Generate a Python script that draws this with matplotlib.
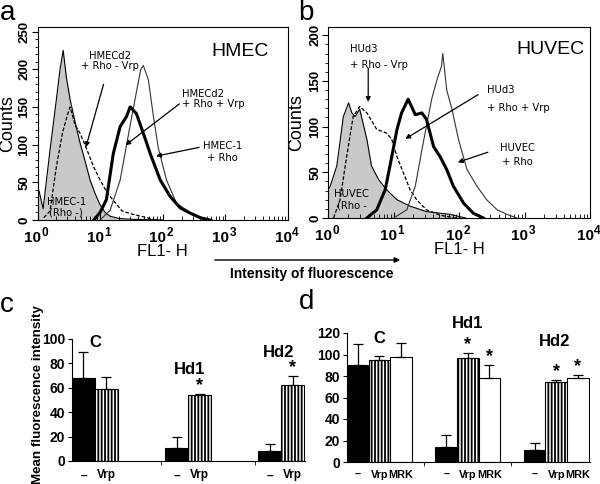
import matplotlib
matplotlib.use("Agg")
import matplotlib.pyplot as plt
import matplotlib.transforms as mtransforms
from matplotlib.ticker import MultipleLocator, FixedLocator, LogLocator, NullFormatter

plt.rcParams["font.family"] = ["Liberation Sans", "DejaVu Sans"]

# ---- histogram data (log10 of FL1-H, counts) ----
# panel a - HMEC
a_neg_dec = [0.0, 0.02, 0.09, 0.2, 0.3, 0.36, 0.41, 0.46, 0.52, 0.6, 0.68, 0.76, 0.84, 0.92, 1.0, 1.08, 1.16, 1.3, 1.5, 2.0]
a_neg_cnt = [27, 40, 15, 93, 159, 200, 225, 190, 160, 130, 102, 78, 53, 35, 20, 10, 5, 2, 1, 0]
a_novrp_dec = [0.1, 0.2, 0.3, 0.4, 0.48, 0.52, 0.6, 0.68, 0.78, 0.9, 1.0, 1.1, 1.22, 1.35, 1.5, 1.7, 1.9]
a_novrp_cnt = [3, 12, 70, 116, 140, 150, 126, 115, 95, 70, 53, 38, 25, 12, 8, 4, 0]
a_rho_dec = [1.0, 1.16, 1.32, 1.48, 1.58, 1.65, 1.69, 1.77, 1.85, 1.93, 2.06, 2.22, 2.44, 2.65, 2.8]
a_rho_cnt = [0, 13, 53, 126, 170, 200, 205, 186, 138, 95, 53, 22, 10, 2, 0]
a_vrp_dec = [0.9, 1.0, 1.1, 1.21, 1.32, 1.42, 1.48, 1.58, 1.69, 1.8, 1.96, 2.12, 2.28, 2.44, 2.6, 2.75]
a_vrp_cnt = [0, 10, 27, 88, 124, 137, 150, 141, 115, 88, 53, 31, 16, 9, 3, 0]

# panel b - HUVEC
b_neg_dec = [0.0, 0.03, 0.13, 0.23, 0.31, 0.36, 0.41, 0.48, 0.59, 0.66, 0.77, 0.89, 1.05, 1.25, 1.5, 1.86, 2.1]
b_neg_cnt = [31, 35, 57, 111, 126, 115, 111, 119, 86, 57, 42, 31, 20, 13, 7, 4, 0]
b_novrp_dec = [0.08, 0.18, 0.28, 0.38, 0.48, 0.59, 0.74, 0.89, 0.97, 1.05, 1.15, 1.25, 1.35, 1.5, 1.71, 1.95]
b_novrp_cnt = [0, 20, 67, 111, 122, 115, 97, 93, 86, 67, 49, 31, 20, 9, 3, 0]
b_vrp_dec = [0.59, 0.74, 0.87, 0.97, 1.05, 1.12, 1.22, 1.33, 1.43, 1.5, 1.61, 1.71, 1.81, 1.91, 2.07, 2.22, 2.37]
b_vrp_cnt = [0, 9, 31, 67, 97, 115, 130, 113, 115, 108, 78, 67, 53, 35, 16, 5, 0]
b_rho_dec = [1.0, 1.2, 1.33, 1.45, 1.58, 1.66, 1.73, 1.75, 1.81, 1.89, 1.99, 2.12, 2.27, 2.42, 2.58, 2.73, 2.88]
b_rho_cnt = [0, 9, 35, 82, 130, 151, 166, 180, 140, 119, 86, 53, 35, 20, 9, 4, 0]

decades = [0, 1, 2, 3, 4]

# ---- bar data ----
c_groups = ["C", "Hd1", "Hd2"]
c_ctrl = [68, 11, 8]
c_ctrl_err = [21, 9, 6]
c_vrp = [59, 54, 62]
c_vrp_err = [10, 1, 8]
c_stars = [False, True, True]

d_groups = ["C", "Hd1", "Hd2"]
d_ctrl = [90, 14, 11]
d_ctrl_err = [20, 11, 7]
d_vrp = [95, 97, 74]
d_vrp_err = [4, 4, 2]
d_mrk = [98, 78, 78]
d_mrk_err = [13, 12, 3]
d_vrp_stars = [False, True, True]
d_mrk_stars = [False, True, True]

fig = plt.figure(figsize=(6, 4.84), dpi=100)
W, H = 600.0, 484.0


def ax_px(x0, y0, x1, y1):
    return fig.add_axes([x0 / W, 1 - y1 / H, (x1 - x0) / W, (y1 - y0) / H])


gray = "#c9c9c9"
ann = dict(fontsize=7.2, family="DejaVu Sans")


def hist_panel(ax, neg, novrp, rho, vrp, ymax, label_x):
    ax.fill_between([10 ** d for d in neg[0]], neg[1], color=gray, lw=0)
    ax.plot([10 ** d for d in neg[0]], neg[1], color="black", lw=0.8)
    ax.plot([10 ** d for d in novrp[0]], novrp[1], color="black", lw=0.9, dashes=(3, 1.5))
    ax.plot([10 ** d for d in rho[0]], rho[1], color="#333333", lw=0.8)
    ax.plot([10 ** d for d in vrp[0]], vrp[1], color="black", lw=2.2)
    ax.set_xscale("log")
    ax.set_xlim(1, 1e4)
    ax.set_ylim(0, ymax)
    ax.set_xticks([10 ** d for d in decades])
    ax.set_xticklabels([])
    trans = mtransforms.blended_transform_factory(ax.transData, ax.transAxes)
    for d in decades:
        ax.annotate("10", xy=(10 ** d, 0), xycoords=trans, xytext=(3.5, -11), textcoords="offset pixels",
                    ha="right", va="top", fontsize=11, fontweight="bold", annotation_clip=False)
        ax.annotate(str(d), xy=(10 ** d, 0), xycoords=trans, xytext=(4, -7), textcoords="offset pixels",
                    ha="left", va="top", fontsize=8.5, fontweight="bold", annotation_clip=False)
    ax.xaxis.set_minor_locator(LogLocator(base=10, subs=range(2, 10)))
    ax.xaxis.set_minor_formatter(NullFormatter())
    ax.yaxis.set_major_locator(MultipleLocator(50))
    ax.yaxis.set_minor_locator(MultipleLocator(10))
    for lab in ax.get_yticklabels():
        lab.set_rotation(90)
        lab.set_va("center")
        lab.set_fontweight("bold")
        lab.set_fontsize(9.5)
    ax.tick_params(axis="x", which="both", direction="in", top=False)
    ax.tick_params(axis="x", which="major", length=4)
    ax.tick_params(axis="x", which="minor", length=3)
    ax.tick_params(axis="y", which="both", direction="out", pad=1)
    ax.tick_params(axis="y", which="major", length=4)
    ax.tick_params(axis="y", which="minor", length=2.5)
    ax.set_xlabel("FL1- H", fontsize=12)
    ax.xaxis.set_label_coords(0.5, -0.125)
    ax.set_ylabel("Counts", fontsize=13)
    ax.yaxis.set_label_coords(label_x, 0.5)
    for s in ax.spines.values():
        s.set_linewidth(0.8)


axa = ax_px(37.5, 27, 288, 220)
hist_panel(axa, (a_neg_dec, a_neg_cnt), (a_novrp_dec, a_novrp_cnt),
           (a_rho_dec, a_rho_cnt), (a_vrp_dec, a_vrp_cnt), 256, -0.086)
axa.text(10 ** 3.23, 223, "HMEC", fontsize=14, ha="center", va="center")
axa.annotate("HMECd2\n+ Rho - Vrp", xy=(10 ** 0.76, 93), xytext=(10 ** 1.16, 211),
             ha="center", va="center", linespacing=1.0,
             arrowprops=dict(arrowstyle="-|>", color="black", lw=0.9, shrinkA=8, mutation_scale=7), **ann)
axa.annotate("HMECd2\n+ Rho + Vrp", xy=(10 ** 1.37, 97), xytext=(10 ** 2.31, 160),
             ha="left", va="center", linespacing=1.0,
             arrowprops=dict(arrowstyle="-|>", color="black", lw=0.9, shrinkA=0, mutation_scale=7,
                             relpos=(0.05, 0.5)), **ann)
axa.annotate("HMEC-1\n+ Rho", xy=(10 ** 1.85, 84), xytext=(10 ** 2.96, 90),
             ha="center", va="center", linespacing=1.3,
             arrowprops=dict(arrowstyle="-|>", color="black", lw=0.9, shrinkA=1, mutation_scale=7,
                             relpos=(0.0, 0.75)), **ann)
axa.text(10 ** 0.46, 17, "HMEC-1\n(Rho -)", ha="center", va="center", linespacing=1.0, **ann)

axb = ax_px(328.3, 27, 590, 218)
hist_panel(axb, (b_neg_dec, b_neg_cnt), (b_novrp_dec, b_novrp_cnt),
           (b_rho_dec, b_rho_cnt), (b_vrp_dec, b_vrp_cnt), 209, -0.089)
axb.text(10 ** 3.39, 184, "HUVEC", fontsize=14, ha="center", va="center")
axb.text(10 ** 0.33, 176, "HUd3\n+ Rho - Vrp", ha="left", va="center", linespacing=1.7, **ann)
axb.annotate("", xy=(10 ** 0.61, 124), xytext=(10 ** 0.61, 164),
             arrowprops=dict(arrowstyle="-|>", color="black", lw=0.9, shrinkA=0, mutation_scale=7))
axb.text(10 ** 2.43, 130, "HUd3\n+ Rho + Vrp", ha="left", va="center", linespacing=2.0, **ann)
axb.annotate("", xy=(10 ** 1.14, 85), xytext=(10 ** 2.29, 135),
             arrowprops=dict(arrowstyle="-|>", color="black", lw=0.9, shrinkA=0, mutation_scale=7))
axb.text(10 ** 2.89, 69, "HUVEC\n+ Rho", ha="center", va="center", linespacing=1.6, **ann)
axb.annotate("", xy=(10 ** 1.94, 60), xytext=(10 ** 2.44, 72),
             arrowprops=dict(arrowstyle="-|>", color="black", lw=0.9, shrinkA=0, mutation_scale=7))
axb.text(10 ** 0.36, 20, "HUVEC\n(Rho -", ha="center", va="center", linespacing=1.3, **ann)

# intensity arrow
fig.add_artist(matplotlib.patches.FancyArrowPatch((212 / W, 1 - 260 / H), (403 / W, 1 - 260 / H),
                                                  transform=fig.transFigure, arrowstyle="-|>",
                                                  mutation_scale=8, lw=1.0, color="black"))
fig.text(312 / W, 1 - 274 / H, "Intensity of fluorescence", fontsize=10, fontweight="bold",
         ha="center", va="center")

# panel letters
for lx, ly, lt in [(8, 13, "a"), (306, 13, "b"), (7, 305, "c"), (307, 302, "d")]:
    fig.text(lx / W, 1 - ly / H, lt, fontsize=20, ha="center", va="center")

plt.rcParams["hatch.linewidth"] = 1.3


def bar_axes(ax, ymax, step, xsize):
    ax.set_ylim(0, ymax)
    ax.yaxis.set_major_locator(MultipleLocator(step))
    for s in ["top", "right"]:
        ax.spines[s].set_visible(False)
    ax.spines["left"].set_linewidth(0.8)
    ax.spines["bottom"].set_linewidth(0.8)
    ax.tick_params(axis="y", direction="out", length=3, labelsize=10, pad=2)
    for lab in ax.get_yticklabels():
        lab.set_fontweight("bold")
    ax.tick_params(axis="x", which="major", length=0, labelsize=xsize, pad=6)
    ax.tick_params(axis="x", which="minor", direction="out", length=3)
    for lab in ax.get_xticklabels():
        lab.set_fontweight("bold")


def errbars(ax, xs, vals, errs):
    ax.errorbar(xs, vals, yerr=[[0] * len(errs), errs], fmt="none", ecolor="black",
                elinewidth=0.9, capsize=3.5, capthick=0.9)


# panel c
axc = ax_px(72, 339, 305, 461)
bw = 0.246
xs = list(range(len(c_groups)))
x1 = [x + bw / 2 for x in xs]
x2 = [x + 1.5 * bw for x in xs]
axc.bar(x1, c_ctrl, bw, color="black", edgecolor="black", lw=0.8)
axc.bar(x2, c_vrp, bw, color="white", edgecolor="black", hatch="|||||", lw=0.8)
errbars(axc, x1, c_ctrl, c_ctrl_err)
errbars(axc, x2, c_vrp, c_vrp_err)
for x, v, e, s in zip(x2, c_vrp, c_vrp_err, c_stars):
    if s:
        axc.text(x, v + e, "*", fontsize=13, fontweight="bold", ha="center", va="bottom")
axc.set_xlim(0, 2.5)
axc.set_xticks(x1 + x2)
axc.set_xticklabels(["–"] * 3 + ["Vrp"] * 3)
axc.xaxis.set_minor_locator(FixedLocator([0.96, 1.96]))
bar_axes(axc, 100, 20, 8.5)
for (gx, gy), g in zip([(0.246, 97.5), (1.26, 75), (2.22, 89)], c_groups):
    axc.text(gx, gy, g, fontsize=12, fontweight="bold", ha="center", va="center", clip_on=False)
fig.text(38 / W, 1 - 395 / H, "Mean fluorescence intensity", fontsize=9.6, fontweight="bold",
         rotation=90, ha="center", va="center")

# panel d
axd = ax_px(347, 333, 590, 462)
bw = 0.245
xs = list(range(len(d_groups)))
x1 = [x + bw / 2 for x in xs]
x2 = [x + 1.5 * bw for x in xs]
x3 = [x + 2.5 * bw for x in xs]
axd.bar(x1, d_ctrl, bw, color="black", edgecolor="black", lw=0.8)
axd.bar(x2, d_vrp, bw, color="white", edgecolor="black", hatch="|||||", lw=0.8)
axd.bar(x3, d_mrk, bw, color="white", edgecolor="black", lw=0.8)
errbars(axd, x1, d_ctrl, d_ctrl_err)
errbars(axd, x2, d_vrp, d_vrp_err)
errbars(axd, x3, d_mrk, d_mrk_err)
for xx, vals, errs, stars in [(x2, d_vrp, d_vrp_err, d_vrp_stars), (x3, d_mrk, d_mrk_err, d_mrk_stars)]:
    for x, v, e, s in zip(xx, vals, errs, stars):
        if s:
            axd.text(x, v + e, "*", fontsize=13, fontweight="bold", ha="center", va="bottom")
axd.set_xlim(0, 2.75)
axd.set_xticks(x1 + x2 + x3)
axd.set_xticklabels(["–"] * 3 + ["Vrp"] * 3 + ["MRK"] * 3)
axd.xaxis.set_minor_locator(FixedLocator([0.87, 1.86]))
bar_axes(axd, 120, 20, 7.8)
for (gx, gy), g in zip([(0.37, 115), (1.36, 129), (2.35, 112)], d_groups):
    axd.text(gx, gy, g, fontsize=12, fontweight="bold", ha="center", va="center", clip_on=False)

fig.savefig("out.png", dpi=100)
